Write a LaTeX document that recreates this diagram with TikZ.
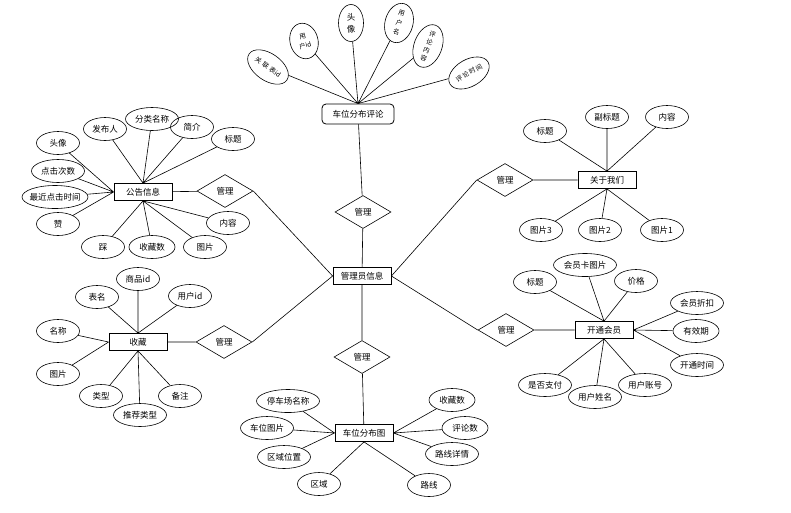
\documentclass[tikz,border=0pt]{standalone}
\usepackage{fontspec}
\setmainfont{Noto Sans CJK SC}
\usetikzlibrary{shapes.geometric}

\begin{document}
\begin{tikzpicture}[x=1pt,y=-1pt,
    font=\fontsize{8.5}{10}\selectfont,
    ent/.style={draw,line width=0.8pt,minimum width=58pt,minimum height=17pt,inner xsep=4pt},
    attr/.style={draw,ellipse,line width=0.6pt,minimum width=43pt,minimum height=23pt,inner xsep=-5pt,inner ysep=0pt},
    vattr/.style={draw,ellipse,line width=0.6pt,inner sep=0pt,align=center,font=\fontsize{6.5}{10}\selectfont},
    rel/.style={draw,diamond,line width=0.6pt,minimum width=56pt,minimum height=33pt,inner sep=0pt},
    link/.style={line width=0.6pt},
    w3/.style={minimum width=46pt},
    w4/.style={minimum width=53pt},
    w5/.style={minimum width=63pt},
    w6/.style={minimum width=66pt}]
    \useasboundingbox (0,0) rectangle (791,512);

    \node[ent] (adm) at (362,276) {管理员信息};
    \node[rel] (mcmt) at (363,212) {管理};
    \node[rel] (mmap) at (362,357) {管理};
    \node[rel] (mntc) at (225,191) {管理};
    \node[rel] (mfav) at (224,342) {管理};
    \node[rel] (mabt) at (505,180) {管理};
    \node[rel] (mvip) at (506,330) {管理};

    \node[ent,rounded corners=4pt,minimum width=72pt,minimum height=20pt] (cmt) at (358,114) {车位分布评论};
    \node[vattr,rotate=-35,minimum width=46pt,minimum height=27pt] (cmt1) at (268,67) {关\,\,联\,\,表id};
    \node[vattr,rotate=15,minimum width=28pt,minimum height=36pt] (cmt2) at (304,41) {用\\户id};
    \node[vattr,minimum width=25pt,minimum height=37pt,font=\fontsize{8.5}{12}\selectfont] (cmt3) at (351,23) {头\\像};
    \node[vattr,rotate=-15,minimum width=28pt,minimum height=40pt] (cmt4) at (399,23) {用\\户\\名};
    \node[vattr,rotate=-20,minimum width=28pt,minimum height=40pt,font=\fontsize{6.5}{8.5}\selectfont] (cmt5) at (428,46) {评\\论\\内\\容};
    \node[vattr,rotate=30,minimum width=44pt,minimum height=27pt] (cmt6) at (469,73) {评\,论\,时\,间};

    \node[ent] (ntc) at (143,192) {公告信息};
    \node[attr] (ntc1) at (58,143) {头像};
    \node[attr,w4] (ntc2) at (58,171) {点击次数};
    \node[attr,w6] (ntc3) at (55,197) {最近点击时间};
    \node[attr] (ntc4) at (58,224) {赞};
    \node[attr] (ntc5) at (103,247) {踩};
    \node[attr,w3] (ntc6) at (152,247) {收藏数};
    \node[attr] (ntc7) at (205,247) {图片};
    \node[attr] (ntc8) at (228,223) {内容};
    \node[attr] (ntc9) at (233,139) {标题};
    \node[attr] (ntc10) at (192,127) {简介};
    \node[attr,w4] (ntc11) at (152,119) {分类名称};
    \node[attr] (ntc12) at (105,129) {发布人};

    \node[ent] (fav) at (138,342) {收藏};
    \node[attr] (fav1) at (97,297) {表名};
    \node[attr] (fav2) at (138,279) {商品id};
    \node[attr] (fav3) at (190,296) {用户id};
    \node[attr] (fav4) at (58,331) {名称};
    \node[attr] (fav5) at (58,374) {图片};
    \node[attr] (fav6) at (101,396) {类型};
    \node[attr,w4] (fav7) at (140,415) {推荐类型};
    \node[attr] (fav8) at (180,396) {备注};

    \node[ent] (map) at (364,433) {车位分布图};
    \node[attr,w5] (map1) at (288,401) {停车场名称};
    \node[attr,w4] (map2) at (267,428) {车位图片};
    \node[attr,w4] (map3) at (284,457) {区域位置};
    \node[attr] (map4) at (319,484) {区域};
    \node[attr] (map5) at (429,485) {路线};
    \node[attr,w4] (map6) at (452,454) {路线详情};
    \node[attr,w3] (map7) at (465,428) {评论数};
    \node[attr,w3] (map8) at (452,400) {收藏数};

    \node[ent] (abt) at (607,180) {关于我们};
    \node[attr] (abt1) at (545,131) {标题};
    \node[attr] (abt2) at (607,117) {副标题};
    \node[attr] (abt3) at (667,117) {内容};
    \node[attr] (abt4) at (541,230) {图片3};
    \node[attr] (abt5) at (600,230) {图片2};
    \node[attr] (abt6) at (662,230) {图片1};

    \node[ent] (vip) at (604,330) {开通会员};
    \node[attr] (vip1) at (535,282) {标题};
    \node[attr,w5] (vip2) at (585,265) {会员卡图片};
    \node[attr] (vip3) at (636,281) {价格};
    \node[attr,w4] (vip4) at (697,303) {会员折扣};
    \node[attr,w3] (vip5) at (696,331) {有效期};
    \node[attr,w4] (vip6) at (697,365) {开通时间};
    \node[attr,w4] (vip7) at (645,385) {用户账号};
    \node[attr,w4] (vip8) at (595,397) {用户姓名};
    \node[attr,w4] (vip9) at (545,385) {是否支付};

    \draw[link] (cmt) -- (mcmt) -- (adm) -- (mmap) -- (map);
    \draw[link] (ntc) -- (mntc) (mntc.east) -- (adm.west);
    \draw[link] (fav) -- (mfav) (mfav.east) -- (adm.west);
    \draw[link] (abt) -- (mabt) (mabt.west) -- (adm.east);
    \draw[link] (vip) -- (mvip) (mvip.west) -- (adm.east);

    \draw[link] (cmt1) -- (cmt.north) (cmt2) -- (cmt.north) (cmt3) -- (cmt.north)
        (cmt4) -- (cmt.north) (cmt5) -- (cmt.north) (cmt6) -- (cmt.north);

    \draw[link] (ntc1) -- (ntc.west) (ntc2) -- (ntc.west) (ntc3) -- (ntc.west) (ntc4) -- (ntc.west);
    \draw[link] (ntc12) -- (ntc.north) (ntc11) -- (ntc.north) (ntc10) -- (ntc.north) (ntc9) -- (ntc.north);
    \draw[link] (ntc5) -- (ntc.south) (ntc6) -- (ntc.south) (ntc7) -- (ntc.south) (ntc8) -- (ntc.south);

    \draw[link] (fav1) -- (fav.north) (fav2) -- (fav.north) (fav3) -- (fav.north);
    \draw[link] (fav4) -- (fav.west) (fav5) -- (fav.west);
    \draw[link] (fav6) -- (fav.south) (fav7) -- (fav.south) (fav8) -- (fav.south);

    \draw[link] (map1) -- (map.west) (map2) -- (map.west) (map3) -- (map.west);
    \draw[link] (map4) -- (map.south) (map5) -- (map.south);
    \draw[link] (map6) -- (map.east) (map7) -- (map.east) (map8) -- (map.east);

    \draw[link] (abt1) -- (abt.north) (abt2) -- (abt.north) (abt3) -- (abt.north);
    \draw[link] (abt4) -- (abt.south) (abt5) -- (abt.south) (abt6) -- (abt.south);

    \draw[link] (vip1) -- (vip.north) (vip2) -- (vip.north) (vip3) -- (vip.north);
    \draw[link] (vip4) -- (vip.east) (vip5) -- (vip.east) (vip6) -- (vip.east);
    \draw[link] (vip7) -- (vip.south) (vip8) -- (vip.south) (vip9) -- (vip.south);
\end{tikzpicture}
\end{document}
